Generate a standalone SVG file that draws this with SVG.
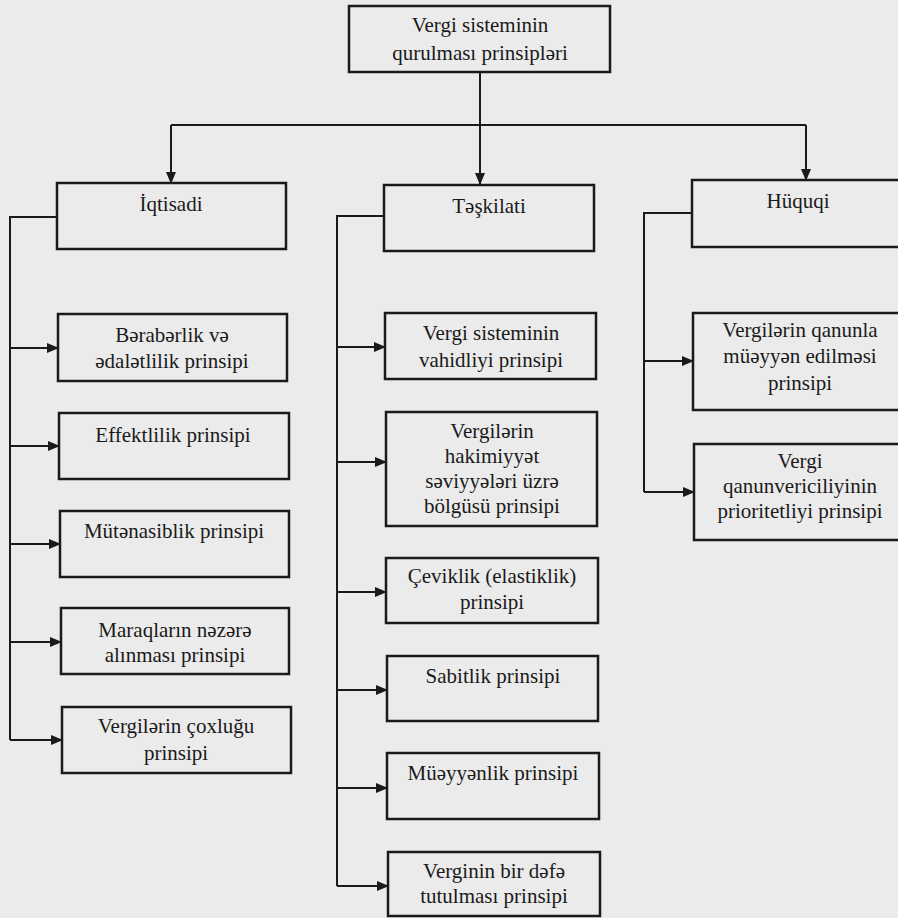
<svg xmlns="http://www.w3.org/2000/svg" width="898" height="918" viewBox="0 0 898 918">
<style>
.box{fill:none;stroke:#1a1a1a;stroke-width:2.5}
.t{font-size:21px;fill:#1a1a1a;text-anchor:middle}
.c{fill:none;stroke:#1a1a1a;stroke-width:2}
</style>
<defs>
<marker id="ah" markerUnits="userSpaceOnUse" markerWidth="12" markerHeight="10" refX="11" refY="5" orient="auto">
<path d="M0,0 L12,5 L0,10 Z" fill="#1a1a1a"/>
</marker>
</defs>
<rect width="898" height="918" fill="#ebebeb"/>
<g id="connectors">
<path class="c" d="M480,72 V184" marker-end="url(#ah)"/>
<path class="c" d="M171,125 H806"/>
<path class="c" d="M171,125 V183" marker-end="url(#ah)"/>
<path class="c" d="M806,125 V180" marker-end="url(#ah)"/>
<path class="c" d="M57,217 H10 V740"/>
<path class="c" d="M10,348 H58" marker-end="url(#ah)"/>
<path class="c" d="M10,446 H59" marker-end="url(#ah)"/>
<path class="c" d="M10,544 H60" marker-end="url(#ah)"/>
<path class="c" d="M10,642 H61" marker-end="url(#ah)"/>
<path class="c" d="M10,740 H62" marker-end="url(#ah)"/>
<path class="c" d="M384,216 H337 V886"/>
<path class="c" d="M337,347 H385" marker-end="url(#ah)"/>
<path class="c" d="M337,462 H386" marker-end="url(#ah)"/>
<path class="c" d="M337,592 H386" marker-end="url(#ah)"/>
<path class="c" d="M337,690 H387" marker-end="url(#ah)"/>
<path class="c" d="M337,788 H387" marker-end="url(#ah)"/>
<path class="c" d="M337,886 H388" marker-end="url(#ah)"/>
<path class="c" d="M692,213 H644 V492"/>
<path class="c" d="M644,361 H693" marker-end="url(#ah)"/>
<path class="c" d="M644,492 H694" marker-end="url(#ah)"/>
</g>
<g font-family="Liberation Serif, Tinos, Times New Roman, Times, DejaVu Serif, Noto Serif, serif">
<g id="root"><rect class="box" x="349" y="6" width="261" height="66"/><text class="t" x="480" y="32">Vergi sisteminin</text><text class="t" x="480" y="60">qurulması prinsipləri</text></g>
<g id="iqtisadi"><rect class="box" x="57" y="183" width="229" height="66"/><text class="t" x="171" y="211">İqtisadi</text></g>
<g id="teskilati"><rect class="box" x="384" y="185" width="210" height="66"/><text class="t" x="489" y="213">Təşkilati</text></g>
<g id="huquqi"><rect class="box" x="692" y="180" width="215" height="67"/><text class="t" x="798" y="208">Hüquqi</text></g>
<g id="beraberlik"><rect class="box" x="58" y="314" width="229" height="67"/><text class="t" x="172" y="342">Bərabərlik və</text><text class="t" x="172" y="368">ədalətlilik prinsipi</text></g>
<g id="effektlilik"><rect class="box" x="59" y="413" width="230" height="66"/><text class="t" x="173" y="442">Effektlilik prinsipi</text></g>
<g id="mutenasiblik"><rect class="box" x="60" y="511" width="229" height="66"/><text class="t" x="174" y="538">Mütənasiblik prinsipi</text></g>
<g id="maraqlar"><rect class="box" x="61" y="608" width="228" height="66"/><text class="t" x="175" y="637">Maraqların nəzərə</text><text class="t" x="175" y="662">alınması prinsipi</text></g>
<g id="coxlugu"><rect class="box" x="62" y="707" width="229" height="66"/><text class="t" x="176" y="733">Vergilərin çoxluğu</text><text class="t" x="176" y="760">prinsipi</text></g>
<g id="vahidliyi"><rect class="box" x="385" y="313" width="211" height="66"/><text class="t" x="491" y="340">Vergi sisteminin</text><text class="t" x="491" y="367">vahidliyi prinsipi</text></g>
<g id="hakimiyyet"><rect class="box" x="386" y="412" width="211" height="114"/><text class="t" x="492" y="438">Vergilərin</text><text class="t" x="492" y="463">hakimiyyət</text><text class="t" x="492" y="488">səviyyələri üzrə</text><text class="t" x="492" y="513">bölgüsü prinsipi</text></g>
<g id="ceviklik"><rect class="box" x="386" y="558" width="212" height="65"/><text class="t" x="492" y="583">Çeviklik (elastiklik)</text><text class="t" x="492" y="609">prinsipi</text></g>
<g id="sabitlik"><rect class="box" x="387" y="656" width="211" height="65"/><text class="t" x="493" y="683">Sabitlik prinsipi</text></g>
<g id="mueyyenlik"><rect class="box" x="387" y="753" width="212" height="66"/><text class="t" x="493" y="780">Müəyyənlik prinsipi</text></g>
<g id="birdefe"><rect class="box" x="388" y="852" width="212" height="64"/><text class="t" x="494" y="878">Verginin bir dəfə</text><text class="t" x="494" y="903">tutulması prinsipi</text></g>
<g id="qanunla"><rect class="box" x="693" y="313" width="215" height="97"/><text class="t" x="800" y="337">Vergilərin qanunla</text><text class="t" x="800" y="363">müəyyən edilməsi</text><text class="t" x="800" y="390">prinsipi</text></g>
<g id="prioritet"><rect class="box" x="694" y="444" width="215" height="96"/><text class="t" x="800" y="468">Vergi</text><text class="t" x="800" y="493">qanunvericiliyinin</text><text class="t" x="800" y="518">prioritetliyi prinsipi</text></g>
</g>
</svg>
